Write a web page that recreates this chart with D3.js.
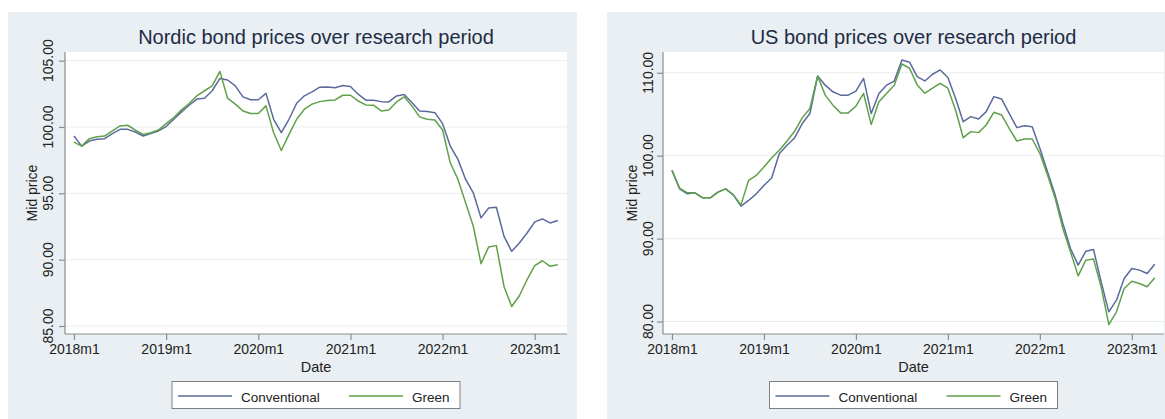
<!DOCTYPE html>
<html>
<head>
<meta charset="utf-8">
<script src="https://cdn.jsdelivr.net/npm/d3@7"></script>
<style>
  html, body { margin: 0; padding: 0; background: #ffffff; }
  svg { display: block; font-family: "Liberation Sans", Arial, Helvetica, sans-serif; }
</style>
</head>
<body>
<svg id="chart" width="1165" height="419"></svg>
<script>
// Monthly observations, 2018m1 .. 2023m4 (64 months)
const months = d3.range(64);
const xTickIndex = [0, 12, 24, 36, 48, 60];
const xTickLabels = ["2018m1", "2019m1", "2020m1", "2021m1", "2022m1", "2023m1"];
const seriesNames = ["Conventional", "Green"];

// Nordic mid prices
const nordicConventional = [
  99.32, 98.56, 98.94, 99.07, 99.12, 99.50, 99.82, 99.82, 99.62, 99.32, 99.50, 99.70,
  100.03, 100.58, 101.14, 101.64, 102.10, 102.17, 102.73, 103.66, 103.54, 103.10, 102.27, 102.05,
  102.05, 102.53, 100.58, 99.57, 100.58, 101.79, 102.35, 102.65, 103.00, 103.02, 102.95, 103.12,
  103.05, 102.47, 102.02, 102.02, 101.91, 101.89, 102.34, 102.44, 101.84, 101.21, 101.16, 101.08,
  100.25, 98.56, 97.56, 96.05, 95.04, 93.15, 93.90, 93.95, 91.76, 90.63, 91.26, 92.01,
  92.85, 93.07, 92.77, 92.95
];
const nordicGreen = [
  98.86, 98.56, 99.12, 99.27, 99.32, 99.70, 100.08, 100.13, 99.77, 99.44, 99.57, 99.77,
  100.25, 100.71, 101.29, 101.77, 102.35, 102.73, 103.10, 104.19, 102.17, 101.72, 101.21, 101.01,
  101.01, 101.59, 99.57, 98.23, 99.44, 100.58, 101.34, 101.72, 101.91, 101.99, 102.04, 102.39,
  102.39, 101.96, 101.66, 101.64, 101.21, 101.28, 101.89, 102.27, 101.59, 100.76, 100.58, 100.53,
  99.77, 97.30, 96.05, 94.28, 92.52, 89.70, 90.96, 91.06, 87.98, 86.47, 87.28, 88.49,
  89.55, 89.92, 89.50, 89.62
];

// US mid prices
const usConventional = [
  98.23, 96.00, 95.40, 95.52, 94.92, 94.92, 95.60, 96.00, 95.28, 93.91, 94.60, 95.40,
  96.41, 97.30, 100.24, 101.25, 102.14, 103.87, 105.08, 109.60, 108.50, 107.70, 107.30, 107.30,
  107.78, 109.31, 105.08, 107.50, 108.50, 108.99, 111.53, 111.27, 109.54, 109.01, 109.82, 110.34,
  109.42, 106.92, 104.10, 104.71, 104.43, 105.31, 107.12, 106.84, 105.11, 103.38, 103.62, 103.50,
  100.89, 98.07, 95.25, 91.83, 88.81, 86.80, 88.49, 88.69, 84.79, 81.17, 82.58, 85.19,
  86.40, 86.20, 85.80, 86.92
];
const usGreen = [
  98.23, 96.09, 95.52, 95.52, 94.92, 94.92, 95.60, 96.00, 95.28, 94.07, 97.02, 97.62,
  98.63, 99.72, 100.65, 101.73, 102.94, 104.56, 105.69, 109.60, 107.30, 106.09, 105.16, 105.16,
  105.97, 107.50, 103.75, 106.49, 107.50, 108.50, 111.05, 110.54, 108.53, 107.53, 108.13, 108.73,
  108.13, 105.51, 102.17, 102.90, 102.78, 103.70, 105.23, 104.91, 103.30, 101.77, 102.01, 102.01,
  100.28, 97.67, 94.85, 91.23, 88.41, 85.51, 87.40, 87.53, 84.19, 79.64, 81.17, 83.98,
  84.87, 84.59, 84.19, 85.27
];

const nordicYTicks = [85, 90, 95, 100, 105];
const usYTicks = [80, 90, 100, 110];

const colors = { conv: "#5a6a9c", green: "#5fa14a" };

const svg = d3.select("#chart");

function drawPanel(cfg) {
  const g = svg.append("g");

  // graph region background
  g.append("rect")
    .attr("x", cfg.bg[0]).attr("y", 12)
    .attr("width", cfg.bg[1] - cfg.bg[0]).attr("height", 419 - 12)
    .attr("fill", "#e9eff2");

  const left = cfg.plot[0], right = cfg.plot[1], top = 52, bottom = 334;

  // plot region
  g.append("rect")
    .attr("x", left).attr("y", top)
    .attr("width", right - left).attr("height", bottom - top)
    .attr("fill", "#ffffff");

  const x = d3.scaleLinear().domain([-1.17, 64.2]).range([left, right]);
  const y = d3.scaleLinear().domain(cfg.yDomain).range([bottom, top]);

  // horizontal grid
  g.append("g").selectAll("line")
    .data(cfg.yTicks).join("line")
    .attr("x1", left).attr("x2", right)
    .attr("y1", d => y(d)).attr("y2", d => y(d))
    .attr("stroke", "#eceeef").attr("stroke-width", 1);

  // series
  const line = d3.line().x((d, i) => x(i)).y(d => y(d));
  g.append("path").datum(cfg.conv)
    .attr("d", line).attr("fill", "none")
    .attr("stroke", colors.conv).attr("stroke-width", 1.5)
    .attr("stroke-linejoin", "round");
  g.append("path").datum(cfg.green)
    .attr("d", line).attr("fill", "none")
    .attr("stroke", colors.green).attr("stroke-width", 1.5)
    .attr("stroke-linejoin", "round");

  // y axis
  const yAxis = g.append("g").attr("transform", `translate(${left},0)`)
    .call(d3.axisLeft(y).tickValues(cfg.yTicks).tickSize(6).tickFormat(""));
  yAxis.select(".domain").attr("d", `M0,${top}V${bottom}`);
  yAxis.selectAll("path, line").attr("stroke", "#8a8d90").attr("stroke-width", 1.2);

  g.append("g").selectAll("text")
    .data(cfg.yTicks).join("text")
    .attr("transform", d => `translate(${left - cfg.labelGap},${y(d)}) rotate(-90)`)
    .attr("text-anchor", "middle")
    .attr("font-size", 14).attr("fill", "#222")
    .text(d => d3.format(".2f")(d));

  g.append("text")
    .attr("transform", `translate(${left - cfg.labelGap - 16},${(top + bottom) / 2}) rotate(-90)`)
    .attr("text-anchor", "middle")
    .attr("font-size", 14).attr("fill", "#222")
    .text("Mid price");

  // x axis
  const xAxis = g.append("g").attr("transform", `translate(0,${bottom})`)
    .call(d3.axisBottom(x).tickValues(xTickIndex).tickSize(6)
      .tickFormat((d, i) => xTickLabels[i]));
  xAxis.select(".domain").attr("d", `M${left},0H${right}`);
  xAxis.selectAll("path, line").attr("stroke", "#8a8d90").attr("stroke-width", 1.2);
  xAxis.selectAll("text")
    .attr("font-size", 14).attr("fill", "#222")
    .attr("font-family", null)
    .attr("y", 10).attr("dy", "0.71em");

  g.append("text")
    .attr("x", (left + right) / 2).attr("y", 372)
    .attr("text-anchor", "middle")
    .attr("font-size", 14.5).attr("fill", "#222")
    .text("Date");

  // title
  g.append("text")
    .attr("x", (left + right) / 2).attr("y", 44)
    .attr("text-anchor", "middle")
    .attr("font-size", 20).attr("fill", "#1e2b45")
    .text(cfg.title);

  // legend
  const cx = (left + right) / 2;
  const lx = cx - 144, ly = 381.5;
  const lg = g.append("g");
  lg.append("rect")
    .attr("x", lx).attr("y", ly).attr("width", 288).attr("height", 27)
    .attr("fill", "#ffffff").attr("stroke", "#7d8083").attr("stroke-width", 1);
  const items = [
    { name: seriesNames[0], color: colors.conv, x0: 6 },
    { name: seriesNames[1], color: colors.green, x0: 177 }
  ];
  items.forEach(it => {
    lg.append("line")
      .attr("x1", lx + it.x0).attr("x2", lx + it.x0 + 54)
      .attr("y1", ly + 14.5).attr("y2", ly + 14.5)
      .attr("stroke", it.color).attr("stroke-width", 1.3);
    lg.append("text")
      .attr("x", lx + it.x0 + 63).attr("y", ly + 20)
      .attr("font-size", 13.5).attr("fill", "#222")
      .text(it.name);
  });
}

drawPanel({
  bg: [8, 577],
  plot: [65, 567],
  labelGap: 12,
  yDomain: [84.4, 105.65],
  yTicks: nordicYTicks,
  conv: nordicConventional,
  green: nordicGreen,
  title: "Nordic bond prices over research period"
});

drawPanel({
  bg: [607, 1165],
  plot: [663, 1164],
  labelGap: 10,
  yDomain: [78.5, 112.5],
  yTicks: usYTicks,
  conv: usConventional,
  green: usGreen,
  title: "US bond prices over research period"
});
</script>
</body>
</html>
